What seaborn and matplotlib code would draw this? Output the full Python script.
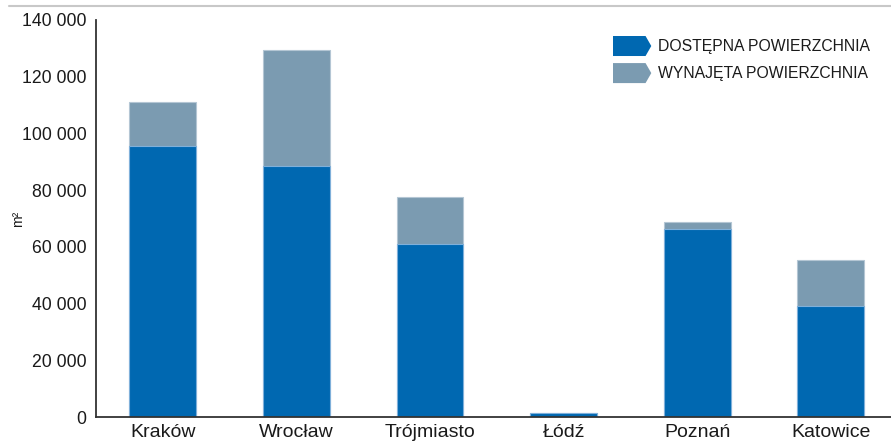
import matplotlib
matplotlib.use("Agg")
import matplotlib.pyplot as plt
from matplotlib.lines import Line2D
from matplotlib.patches import Polygon, Patch
from matplotlib.legend_handler import HandlerBase
from matplotlib.ticker import FuncFormatter, FixedLocator
import seaborn as sns
import pandas as pd

# Office space per city (m²)
cities = ["Kraków", "Wrocław", "Trójmiasto", "Łódź", "Poznań", "Katowice"]
dostepna = [95700, 88600, 60900, 1300, 66300, 39100]
wynajeta = [15500, 40800, 16600, 0, 2400, 16300]
y_ticks = [0, 20000, 40000, 60000, 80000, 100000, 120000, 140000]

label_dostepna = "DOSTĘPNA POWIERZCHNIA"
label_wynajeta = "WYNAJĘTA POWIERZCHNIA"

blue = "#0068b1"
grey = "#7b9bb1"

df = pd.DataFrame({
    "miasto": cities,
    "dostepna": dostepna,
    "suma": [a + b for a, b in zip(dostepna, wynajeta)],
})

sns.set_theme(style="white")
plt.rcParams["font.family"] = ["Liberation Sans", "DejaVu Sans"]

W, H = 891, 441
fig = plt.figure(figsize=(W / 100, H / 100), dpi=100)
ax_l, ax_r, ax_b, ax_t = 96, 891, 417, 20
ax = fig.add_axes([ax_l / W, 1 - ax_b / H, (ax_r - ax_l) / W, (ax_b - ax_t) / H])

sns.barplot(data=df, x="miasto", y="suma", color=grey, saturation=1,
            width=0.5, edgecolor="#b4c6d4", linewidth=0.8, ax=ax)
sns.barplot(data=df, x="miasto", y="dostepna", color=blue, saturation=1,
            width=0.5, edgecolor="#7fb0da", linewidth=0.8, ax=ax)

ax.set_ylim(0, 140000)
ax.set_xlim(-0.5, -0.5 + (ax_r - ax_l) / 133.6)
ax.set_yticks(y_ticks)
ax.yaxis.set_major_formatter(FuncFormatter(lambda v, p: f"{int(v):,}".replace(",", " ")))
ax.tick_params(axis="y", length=0, pad=7, labelsize=12.7, labelcolor="#1a1a1a")
ax.tick_params(axis="x", which="major", length=0, pad=5, labelsize=14, labelcolor="#1a1a1a")
ax.xaxis.set_minor_locator(FixedLocator([i + 0.5 for i in range(len(cities))]))
ax.tick_params(axis="x", which="minor", direction="in", length=4, width=1.0, color="#333333")

ax.set_xlabel("")
ax.set_ylabel("m²", fontsize=10, color="#1a1a1a")
ax.yaxis.set_label_coords((25 - ax_l) / (ax_r - ax_l), 0.5)

for s in ["top", "right"]:
    ax.spines[s].set_visible(False)
for s in ["left", "bottom"]:
    ax.spines[s].set_color("#333333")
    ax.spines[s].set_linewidth(1.3)


class ArrowHandler(HandlerBase):
    def create_artists(self, legend, orig_handle, xdescent, ydescent,
                       width, height, fontsize, trans):
        x0, y0 = -xdescent, -ydescent
        pts = [[x0, y0], [x0 + 0.85 * width, y0], [x0 + width, y0 + height / 2],
               [x0 + 0.85 * width, y0 + height], [x0, y0 + height]]
        return [Polygon(pts, closed=True, facecolor=orig_handle.get_facecolor(),
                        edgecolor="none", transform=trans)]


handles = [Patch(facecolor=blue), Patch(facecolor=grey)]
leg = ax.legend(handles, [label_dostepna, label_wynajeta],
                handler_map={Patch: ArrowHandler()},
                loc="upper left",
                bbox_to_anchor=((613 - ax_l) / (ax_r - ax_l), (ax_b - 36) / (ax_b - ax_t)),
                frameon=False, fontsize=11.3, borderpad=0, borderaxespad=0,
                handlelength=2.44, handleheight=1.585, handletextpad=0.4,
                labelspacing=0.45)
for t in leg.get_texts():
    t.set_color("#1a1a1a")

# thin rule across the top of the figure
fig.add_artist(Line2D([9 / W, 1], [1 - 6 / H, 1 - 6 / H], color="#c8c8c8", linewidth=1.5))

fig.savefig("out.png", dpi=100)
